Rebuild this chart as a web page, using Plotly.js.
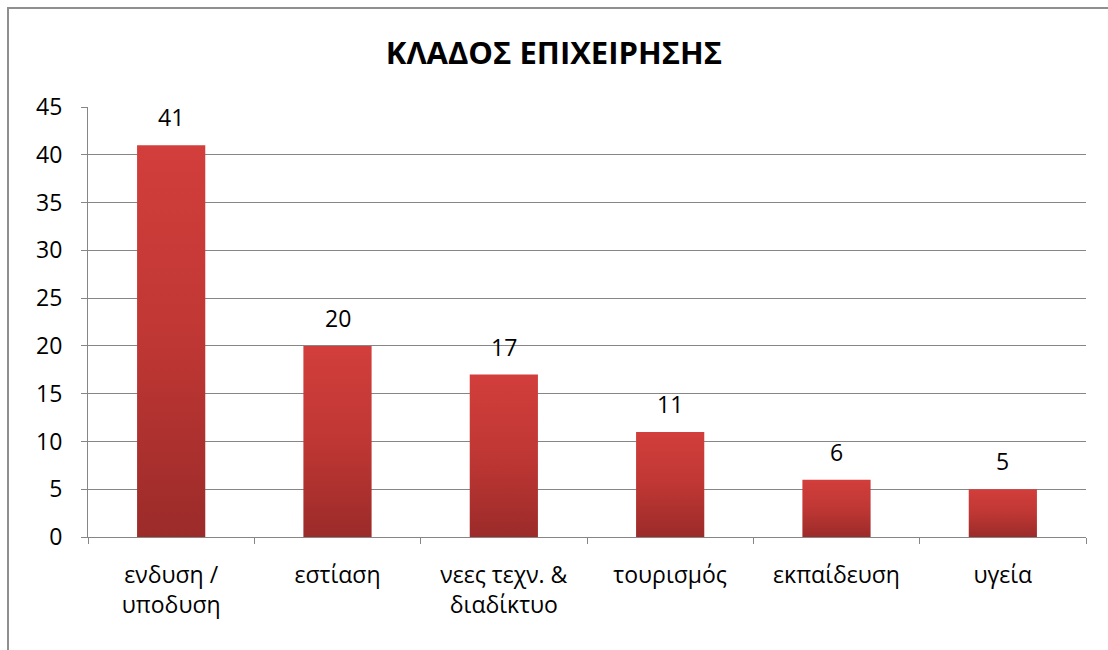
<!DOCTYPE html>
<html>
<head>
<meta charset="utf-8">
<script src="https://cdn.plot.ly/plotly-3.0.1.min.js"></script>
<style>
  body { margin: 0; background: #fff; overflow: hidden; }
  #frame { position: absolute; left: 7px; top: 7px; width: 1200px; height: 700px;
           border-left: 2px solid #8f8f8f; border-top: 2px solid #8f8f8f; pointer-events: none; }
  #chart { position: absolute; left: 0; top: 0; width: 1108px; height: 650px; }
</style>
</head>
<body>
<div id="chart"></div>
<div id="frame"></div>
<script>
// categories and counts
let categories = ['ενδυση /<br>υποδυση', 'εστίαση', 'νεες τεχν. &<br>διαδίκτυο', 'τουρισμός', 'εκπαίδευση', 'υγεία'];
let counts = [41, 20, 17, 11, 6, 5];
let yTicks = [0, 5, 10, 15, 20, 25, 30, 35, 40, 45];

let font = 'Open Sans, Noto Sans, sans-serif';

let trace = {
  x: categories,
  y: counts,
  type: 'bar',
  marker: { color: '#b83431', line: { width: 0 } },
  hoverinfo: 'none'
};

// value labels sit above each bar
let labels = categories.map(function(c, i){
  return {
    x: c, y: counts[i], text: String(counts[i]),
    showarrow: false, yanchor: 'bottom', yshift: 10,
    font: { family: font, size: 23, color: '#000' }
  };
});

let layout = {
  width: 1108,
  height: 650,
  margin: { l: 88, r: 22, t: 107, b: 113 },
  paper_bgcolor: 'rgba(0,0,0,0)',
  plot_bgcolor: 'rgba(0,0,0,0)',
  bargap: 0.59,
  showlegend: false,
  title: {
    text: '<b>ΚΛΑΔΟΣ ΕΠΙΧΕΙΡΗΣΗΣ</b>',
    font: { family: font, size: 31, color: '#000' },
    x: 0.5, xref: 'container', xanchor: 'center',
    y: 1 - 53 / 650, yref: 'container', yanchor: 'middle'
  },
  xaxis: {
    type: 'category',
    tickson: 'boundaries',
    ticks: 'outside', ticklen: 6, tickcolor: '#868686', tickwidth: 1,
    showline: true, linecolor: '#868686', linewidth: 1,
    showgrid: false,
    ticklabelstandoff: 17,
    tickfont: { family: font, size: 23, color: '#000' }
  },
  yaxis: {
    range: [0, 45],
    tickvals: yTicks,
    ticks: 'outside', ticklen: 6, tickcolor: '#868686', tickwidth: 1,
    showline: true, linecolor: '#868686', linewidth: 1,
    showgrid: true, gridcolor: '#868686', gridwidth: 1,
    zeroline: false,
    ticklabelstandoff: 14,
    tickfont: { family: font, size: 23, color: '#000' }
  },
  annotations: labels
};

Plotly.newPlot('chart', [trace], layout, { staticPlot: true }).then(function(gd){
  // vertical red gradient on each bar, like the original
  let ns = 'http://www.w3.org/2000/svg';
  let defs = gd.querySelector('.main-svg defs');
  let grad = document.createElementNS(ns, 'linearGradient');
  grad.setAttribute('id', 'barGrad');
  grad.setAttribute('x1', '0'); grad.setAttribute('y1', '0');
  grad.setAttribute('x2', '0'); grad.setAttribute('y2', '1');
  [['0', '#d23e3b'], ['0.5', '#bf3734'], ['1', '#9b2b29']].forEach(function(s){
    let stop = document.createElementNS(ns, 'stop');
    stop.setAttribute('offset', s[0]);
    stop.setAttribute('stop-color', s[1]);
    grad.appendChild(stop);
  });
  defs.appendChild(grad);
  gd.querySelectorAll('.bars path').forEach(function(p){
    p.style.fill = 'url(#barGrad)';
  });
});
</script>
</body>
</html>
